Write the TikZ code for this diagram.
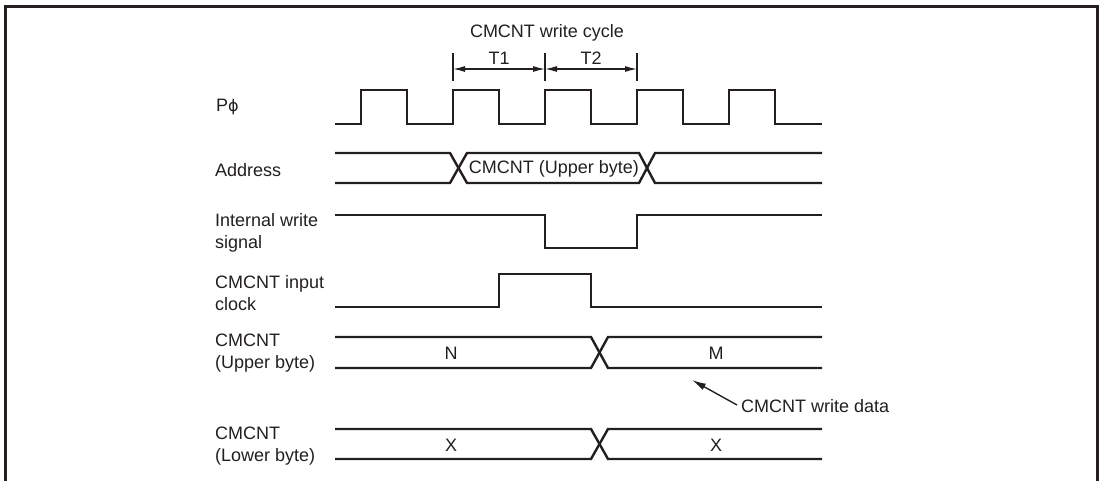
\documentclass[tikz,border=0pt]{standalone}
\usepackage{fontspec}
\setmainfont{Liberation Sans}
\newfontfamily\phifont{DejaVu Sans}
\usepackage{xcolor}
\definecolor{ink}{RGB}{35,31,32}
\usepackage{tikz}
\usetikzlibrary{arrows.meta}
\tikzset{
  sig/.style={ink, line width=2.4pt, line join=miter},
  lbl/.style={font=\fontsize{18}{22}\selectfont, text=ink, anchor=west, align=left, inner sep=0pt},
  txt/.style={font=\fontsize{18}{22}\selectfont, text=ink, inner sep=0pt},
  dim/.style={ink, line width=1.3pt, {Latex[length=12pt,width=6pt]}-{Latex[length=12pt,width=6pt]}},
  pointer/.style={ink, line width=1.4pt, -{Latex[length=14pt,width=7pt]}}
}

\begin{document}
\begin{tikzpicture}[x=1pt, y=-1pt]
  \useasboundingbox (0,0) rectangle (1102,480);
  % frame
  \draw[ink, line width=3pt] (5,495) -- (5,6) -- (1097,6) -- (1097,495);
  % signal names
  \node[lbl] (nphi) at (216,107) {P{\phifont\fontsize{16}{22}\selectfont ϕ}};
  \node[lbl] (naddr) at (215,170) {Address};
  \node[lbl] (nwr) at (215,233) {Internal write\\signal};
  \node[lbl] (nclk) at (215,293) {CMCNT input\\clock};
  \node[lbl] (nup) at (215,353) {CMCNT\\(Upper byte)};
  \node[lbl] (nlow) at (215,446) {CMCNT\\(Lower byte)};
  % write cycle
  \node[txt] (cyc) at (547,33) {CMCNT write cycle};
  \node[txt] (tone) at (499,58) {T1};
  \node[txt] (ttwo) at (591,58) {T2};
  \foreach \x in {453,545,637}
    \draw[ink, line width=1.1pt] (\x,53) -- (\x,81);
  \coordinate (c0) at (453,69);
  \coordinate (c1) at (545,69);
  \coordinate (c2) at (637,69);
  \draw[dim] (c0) -- (c1);
  \draw[dim] (c1) -- (c2);
  % P phi
  \draw[sig] (335,124) \foreach \t in {361,453,545,637,729} {
    -- (\t,124) -- (\t,90) -- (\t+46,90) -- (\t+46,124) } -- (822,124);
  % address
  \draw[sig] (335,153) -- (450,153) -- (467,183) -- (639,183) -- (655,153) -- (822,153);
  \draw[sig] (335,183) -- (450,183) -- (467,153) -- (639,153) -- (655,183) -- (822,183);
  \node[txt] (aval) at (554,169) {CMCNT (Upper byte)};
  % internal write signal
  \draw[sig] (335,215) -- (545,215) -- (545,248) -- (637,248) -- (637,215) -- (822,215);
  % input clock
  \draw[sig] (335,307) -- (499,307) -- (499,274) -- (591,274) -- (591,307) -- (822,307);
  % upper byte
  \draw[sig] (335,337) -- (591,337) -- (608,368) -- (822,368);
  \draw[sig] (335,368) -- (591,368) -- (608,337) -- (822,337);
  \node[txt] (uN) at (451,353) {N};
  \node[txt] (uM) at (716,353) {M};
  % lower byte
  \draw[sig] (335,429) -- (591,429) -- (608,459) -- (822,459);
  \draw[sig] (335,459) -- (591,459) -- (608,429) -- (822,429);
  \node[txt] (lX) at (451,445) {X};
  \node[txt] (rX) at (716,445) {X};
  % write data
  \node[txt, anchor=west] (wd) at (741,406) {CMCNT write data};
  \coordinate (wdtip) at (692,380);
  \draw[pointer] (wd.west) ++(-4,-1) -- (wdtip);
\end{tikzpicture}
\end{document}
